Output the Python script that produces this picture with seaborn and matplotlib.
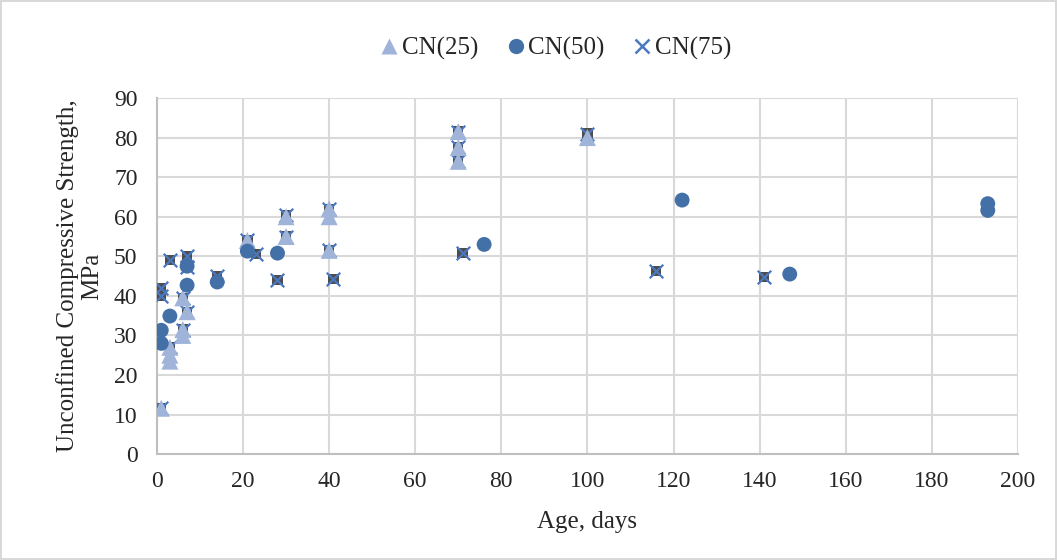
import numpy as np
import pandas as pd
import seaborn as sns
import matplotlib.pyplot as plt
from matplotlib.lines import Line2D

# データ
cn25_age = [1, 3, 3, 3, 6, 6, 6, 7, 21, 30, 30, 40, 40, 40, 70, 70, 70, 100]
cn25_ucs = [11.6, 27, 25, 23.5, 30, 31.5, 39.5, 36, 54, 60, 55, 62, 60, 51.5, 81.5, 77.5, 74, 80]

cn50_age = [1, 1, 3, 7, 7, 14, 21, 28, 76, 122, 147, 193, 193]
cn50_ucs = [28, 31.3, 34.9, 42.7, 47.5, 43.5, 51.3, 50.8, 53, 64.2, 45.5, 63.3, 61.6]

cn75_age = [1, 1, 1, 3, 3, 6, 6, 7, 7, 7, 14, 21, 23, 28, 30, 30, 40, 40, 41,
            70, 70, 70, 71, 100, 116, 141]
cn75_ucs = [11.6, 42, 40, 49, 27, 31.5, 39.5, 50, 47.3, 36, 45, 54, 50.5, 44, 60.5, 55, 62, 51.5, 44.3,
            81.5, 77.5, 74, 50.8, 81, 46.3, 44.8]

c25 = '#9fb4d8'
c50 = '#4470a8'
c75 = '#4a78c0'

sns.set_style("white")
plt.rcParams['font.family'] = ['Liberation Serif', 'DejaVu Serif']

fig = plt.figure(figsize=(10.57, 5.6), dpi=100)
fig.patch.set_edgecolor('#d9d9d9')
fig.patch.set_linewidth(1.5)
ax = fig.add_axes([0.1485, 0.189, 0.8145, 0.636])

# CN(75) の後ろの暗い四角（誤差棒）
sns.scatterplot(x=cn75_age, y=cn75_ucs, marker='s', s=55, color='#4d4d4d',
                edgecolor='none', ax=ax, zorder=3)
sns.scatterplot(x=cn75_age, y=cn75_ucs, marker='x', s=95, color=c75,
                linewidth=1.6, ax=ax, zorder=4)
sns.scatterplot(x=cn25_age, y=cn25_ucs, marker='^', s=150, color=c25,
                edgecolor='none', ax=ax, zorder=5)
sns.scatterplot(x=cn50_age, y=cn50_ucs, marker='o', s=115, color=c50,
                edgecolor='none', ax=ax, zorder=6)

ax.set_xlim(0, 200)
ax.set_ylim(0, 90)
ax.set_xticks(np.arange(0, 201, 20))
ax.set_yticks(np.arange(0, 91, 10))
ax.grid(True, color='#d9d9d9', linewidth=1.5)
ax.set_axisbelow(True)
for s in ['top', 'right']:
    ax.spines[s].set_visible(False)
for s in ['left', 'bottom']:
    ax.spines[s].set_color('#bfbfbf')
    ax.spines[s].set_linewidth(1.5)
ax.tick_params(labelsize=17, length=0)
ax.tick_params(axis='x', pad=12)
ax.tick_params(axis='y', pad=14)
ax.set_xlabel('Age, days', fontsize=18, labelpad=14)
ax.set_ylabel('Unconfined Compressive Strength,\nMPa', fontsize=18, linespacing=1.1, labelpad=8)

handles = [
    Line2D([], [], marker='^', linestyle='none', color=c25, markersize=11, markeredgecolor='none'),
    Line2D([], [], marker='o', linestyle='none', color=c50, markersize=11, markeredgecolor='none'),
    Line2D([], [], marker='x', linestyle='none', color=c75, markersize=10, markeredgewidth=1.8),
]
fig.legend(handles, ['CN(25)', 'CN(50)', 'CN(75)'], loc='center',
           bbox_to_anchor=(0.524, 0.913), ncol=3, frameon=False, fontsize=18,
           handletextpad=0.0, columnspacing=1.0, handlelength=1.0)

fig.savefig('out.png', dpi=100, edgecolor=fig.get_edgecolor())
